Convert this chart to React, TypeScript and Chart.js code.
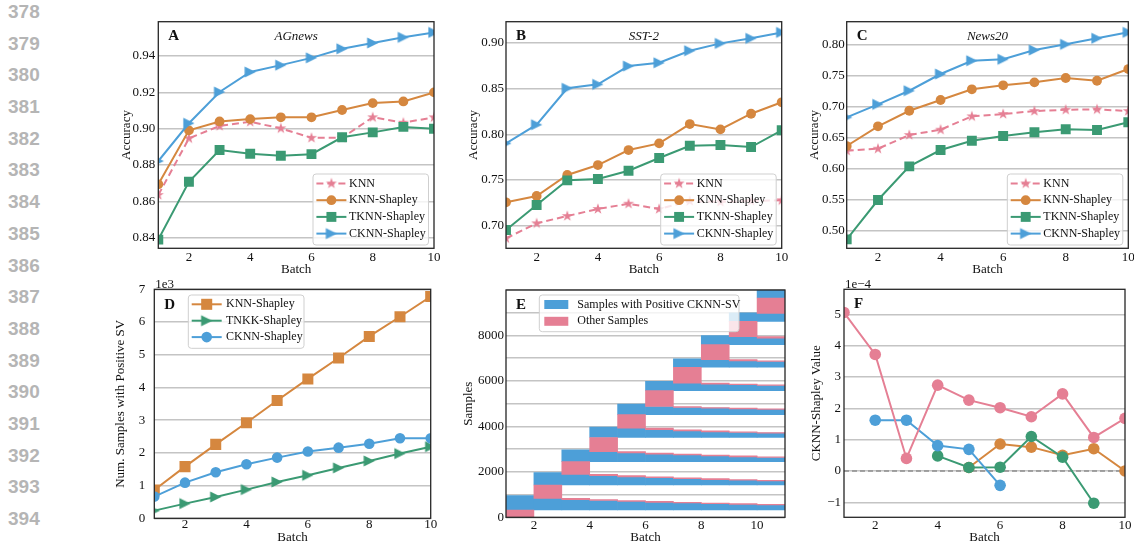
import React, { useEffect, useRef } from 'react';
import { Chart, registerables } from 'chart.js';

Chart.register(...registerables);

const SERIF = '"Liberation Serif", "Times New Roman", Times, serif';
const SANS = '"Liberation Sans", Arial, Helvetica, sans-serif';
const TXT = '#111111';
const GRID = '#c4c4c4';
const FRAME = '#262626';
const C_BLUE = '#4d9fd8';
const C_ORANGE = '#d5873f';
const C_GREEN = '#3b9a73';
const C_PINK = '#e57f94';

// ---------------- data ----------------
const marginNumbers = [378, 379, 380, 381, 382, 383, 384, 385, 386, 387, 388, 389, 390, 391, 392, 393, 394];
const batches = [1, 2, 3, 4, 5, 6, 7, 8, 9, 10];
const batchTicks = [2, 4, 6, 8, 10];
const accNames = ['KNN', 'KNN-Shapley', 'TKNN-Shapley', 'CKNN-Shapley'];
const posNames = ['KNN-Shapley', 'TNKK-Shapley', 'CKNN-Shapley'];
const sampleNames = ['Samples with Positive CKNN-SV', 'Other Samples'];

// A: AGnews
const agKnn = [0.8635, 0.8947, 0.9015, 0.9038, 0.9002, 0.895, 0.895, 0.9063, 0.9033, 0.9063];
const agKnnShap = [0.8694, 0.8991, 0.904, 0.9053, 0.9063, 0.9063, 0.9103, 0.9141, 0.915, 0.92];
const agTknn = [0.839, 0.8708, 0.8883, 0.8862, 0.8851, 0.886, 0.8953, 0.898, 0.901, 0.9];
const agCknn = [0.8822, 0.903, 0.9202, 0.9312, 0.935, 0.939, 0.944, 0.9472, 0.9503, 0.953];
// B: SST-2
const sstKnn = [0.6862, 0.7026, 0.7106, 0.7183, 0.724, 0.7182, 0.727, 0.726, 0.727, 0.7278];
const sstKnnShap = [0.7256, 0.7325, 0.7554, 0.7663, 0.7827, 0.79, 0.8111, 0.8053, 0.8224, 0.8349];
const sstTknn = [0.6953, 0.7226, 0.7496, 0.751, 0.7601, 0.774, 0.7874, 0.7882, 0.786, 0.8043];
const sstCknn = [0.79, 0.8104, 0.8502, 0.8545, 0.8745, 0.8781, 0.8913, 0.8993, 0.9048, 0.9113];
// C: News20
const nwKnn = [0.6288, 0.632, 0.654, 0.6626, 0.6841, 0.6878, 0.6926, 0.6947, 0.6953, 0.6926];
const nwKnnShap = [0.6363, 0.668, 0.6931, 0.7104, 0.7276, 0.734, 0.7388, 0.7458, 0.7414, 0.7602];
const nwTknn = [0.4861, 0.5494, 0.6036, 0.6299, 0.6448, 0.6524, 0.6584, 0.6632, 0.6621, 0.6745];
const nwCknn = [0.6825, 0.7034, 0.7253, 0.7522, 0.7736, 0.7759, 0.7908, 0.8, 0.8097, 0.8193];
// D: number of samples with positive SV
const posKnnShap = [866, 1580, 2260, 2920, 3600, 4260, 4900, 5560, 6160, 6780];
const posTnkk = [234, 449, 652, 877, 1110, 1315, 1540, 1753, 1978, 2190];
const posCknn = [663, 1090, 1407, 1651, 1855, 2040, 2160, 2280, 2446, 2446];
// E: per arriving chunk, bottom of its positive strip and its top at each later batch
const eStripBase = [320, 1420, 2450, 3510, 4520, 5570, 6600, 7600, 8620, 9650];
const eStripTop = [
  [960, 835, 780, 740, 700, 660, 630, 600, 570, 545],
  [1970, 1890, 1830, 1780, 1740, 1700, 1660, 1630, 1600],
  [2970, 2890, 2830, 2780, 2740, 2700, 2660, 2630],
  [3965, 3920, 3850, 3800, 3760, 3730, 3700],
  [4980, 4875, 4830, 4800, 4770, 4750],
  [5980, 5900, 5860, 5830, 5800],
  [6975, 6940, 6880, 6855],
  [7990, 7950, 7880],
  [9000, 8970],
  [10000],
];
// F: CKNN-Shapley value (x1e-4)
const fOrange = [null, null, null, null, 0.11, 0.86, 0.76, 0.5, 0.71, 0.0];
const fGreen = [null, null, null, 0.48, 0.11, 0.12, 1.1, 0.44, -1.03, null];
const fBlue = [null, 1.62, 1.62, 0.81, 0.69, -0.46, null, null, null, null];
const fPink = [5.06, 3.72, 0.4, 2.74, 2.26, 2.02, 1.73, 2.46, 1.07, 1.68];

// tick values
const ticksA = [0.84, 0.86, 0.88, 0.9, 0.92, 0.94];
const ticksB = [0.7, 0.75, 0.8, 0.85, 0.9];
const ticksC = [0.5, 0.55, 0.6, 0.65, 0.7, 0.75, 0.8];
const ticksD = [0, 1000, 2000, 3000, 4000, 5000, 6000, 7000];
const ticksE = [0, 1000, 2000, 3000, 4000, 5000, 6000, 7000, 8000, 9000, 10000];
const ticksF = [-1, 0, 1, 2, 3, 4, 5];

// ---------------- geometry ----------------
const GA = { cl: 100, ct: 0, cw: 345, ch: 280, yW: 58.3, xH: 31.7, padTop: 21.7, padRight: 11, yTitlePad: 18.9, xTitlePad: 2.7, yTickPad: 3, xTickPad: 1 };
const GB = { cl: 450, ct: 0, cw: 343, ch: 280, yW: 56, xH: 31.7, padTop: 21.7, padRight: 11.3, yTitlePad: 15.5, xTitlePad: 2.7, yTickPad: 2, xTickPad: 1 };
const GC = { cl: 790, ct: 0, cw: 344, ch: 280, yW: 56.7, xH: 31.7, padTop: 21.7, padRight: 5.7, yTitlePad: 17.2, xTitlePad: 2.7, yTickPad: 2, xTickPad: 1 };
const GD = { cl: 100, ct: 272, cw: 342, ch: 278, yW: 54.3, xH: 31.7, padTop: 17.3, padRight: 11.3, yTitlePad: 12.9, xTitlePad: 4.7, yTickPad: 9, xTickPad: -1.5 };
const GE = { cl: 450, ct: 272, cw: 346, ch: 278, yW: 56, xH: 32.7, padTop: 18, padRight: 11, yTitlePad: 10.5, xTitlePad: 4.7, yTickPad: 2, xTickPad: 0 };
const GF = { cl: 790, ct: 272, cw: 344, ch: 278, yW: 54, xH: 32.7, padTop: 17.3, padRight: 9, yTitlePad: 18.9, xTitlePad: 4.7, yTickPad: 3, xTickPad: 0 };

const accLegend = { anchor: 'br', dx: 5.5, dy: 3.3, w: 115.5, h: 71, rowH: 16.7, row0: 9.5, kind: 'line', symX: 3.4, symW: 30, textX: 36 };

// ---------------- helpers ----------------
function markerImage(kind: string, r: number, color: string): HTMLCanvasElement {
  const size = Math.ceil(r) * 2 + 2;
  const c = document.createElement('canvas');
  c.width = size;
  c.height = size;
  const ctx = c.getContext('2d') as CanvasRenderingContext2D;
  const m = size / 2;
  ctx.fillStyle = color;
  ctx.beginPath();
  if (kind === 'star') {
    for (let i = 0; i < 10; i++) {
      const rr = i % 2 === 0 ? r : r * 0.382;
      const a = -Math.PI / 2 + (i * Math.PI) / 5;
      const px = m + rr * Math.cos(a);
      const py = m + rr * Math.sin(a);
      if (i === 0) ctx.moveTo(px, py);
      else ctx.lineTo(px, py);
    }
  } else {
    ctx.moveTo(m + r, m);
    ctx.lineTo(m - r, m - r);
    ctx.lineTo(m - r, m + r);
  }
  ctx.closePath();
  ctx.fill();
  return c;
}

function lineDs(label: string, values: any[], color: string, style: any, radius: number, dash: number[], order: number) {
  return {
    label,
    order,
    data: batches.map((b, i) => ({ x: b, y: values[i] })).filter((p) => p.y !== null),
    borderColor: color,
    backgroundColor: color,
    borderWidth: 2,
    borderDash: dash,
    pointStyle: style,
    pointRadius: radius,
    pointHoverRadius: radius,
    pointBackgroundColor: color,
    pointBorderColor: color,
    pointBorderWidth: 0,
    tension: 0,
    clip: 0,
  };
}

function drawMarker(ctx: CanvasRenderingContext2D, style: any, x: number, y: number, r: number, color: string) {
  ctx.save();
  ctx.setLineDash([]);
  ctx.fillStyle = color;
  if (style && typeof style === 'object') {
    ctx.drawImage(style, x - style.width / 2, y - style.height / 2);
  } else if (style === 'rect') {
    const s = r * Math.SQRT1_2;
    ctx.fillRect(x - s, y - s, 2 * s, 2 * s);
  } else {
    ctx.beginPath();
    ctx.arc(x, y, r, 0, Math.PI * 2);
    ctx.fill();
  }
  ctx.restore();
}

function roundRectPath(ctx: CanvasRenderingContext2D, x: number, y: number, w: number, h: number, r: number) {
  ctx.beginPath();
  ctx.moveTo(x + r, y);
  ctx.lineTo(x + w - r, y);
  ctx.arcTo(x + w, y, x + w, y + r, r);
  ctx.lineTo(x + w, y + h - r);
  ctx.arcTo(x + w, y + h, x + w - r, y + h, r);
  ctx.lineTo(x + r, y + h);
  ctx.arcTo(x, y + h, x, y + h - r, r);
  ctx.lineTo(x, y + r);
  ctx.arcTo(x, y, x + r, y, r);
  ctx.closePath();
}

function decoPlugin(d: any) {
  return {
    id: 'deco',
    beforeDatasetsDraw(chart: any) {
      if (!d.zeroLine) return;
      const { ctx, chartArea: ca, scales } = chart;
      const y = scales.y.getPixelForValue(0);
      ctx.save();
      ctx.strokeStyle = '#8f8f8f';
      ctx.lineWidth = 1.4;
      ctx.setLineDash([5, 3]);
      ctx.beginPath();
      ctx.moveTo(ca.left, y);
      ctx.lineTo(ca.right, y);
      ctx.stroke();
      ctx.restore();
    },
    afterDraw(chart: any) {
      const { ctx, chartArea: ca } = chart;
      ctx.save();
      // frame
      ctx.strokeStyle = FRAME;
      ctx.lineWidth = 1.3;
      ctx.strokeRect(ca.left, ca.top, ca.right - ca.left, ca.bottom - ca.top);
      ctx.fillStyle = TXT;
      // letter
      ctx.font = `bold 15px ${SERIF}`;
      ctx.textAlign = 'left';
      ctx.textBaseline = 'alphabetic';
      ctx.fillText(d.letter, ca.left + 10, ca.top + d.letterDy);
      if (d.title) {
        ctx.font = `italic 13px ${SERIF}`;
        ctx.textAlign = 'center';
        ctx.fillText(d.title, (ca.left + ca.right) / 2, ca.top + 18.3);
      }
      if (d.expo) {
        ctx.font = `13px ${SERIF}`;
        ctx.textAlign = 'left';
        ctx.fillText(d.expo, ca.left + 1, ca.top - 1.5);
      }
      const L = d.legend;
      if (L) {
        const bx = L.anchor === 'br' ? ca.right - L.dx - L.w : ca.left + L.dx;
        const by = L.anchor === 'br' ? ca.bottom - L.dy - L.h : ca.top + L.dy;
        roundRectPath(ctx, bx, by, L.w, L.h, 3);
        ctx.fillStyle = 'rgba(255,255,255,0.8)';
        ctx.fill();
        ctx.strokeStyle = '#cfcfcf';
        ctx.lineWidth = 1;
        ctx.stroke();
        const dsList = chart.data.datasets;
        dsList.forEach((ds: any, i: number) => {
          const cy = by + L.row0 + i * L.rowH;
          if (L.kind === 'line') {
            ctx.save();
            ctx.strokeStyle = ds.borderColor;
            ctx.lineWidth = 2;
            ctx.setLineDash(ds.borderDash || []);
            ctx.beginPath();
            ctx.moveTo(bx + L.symX, cy);
            ctx.lineTo(bx + L.symX + L.symW, cy);
            ctx.stroke();
            ctx.restore();
            drawMarker(ctx, ds.pointStyle, bx + L.symX + L.symW / 2, cy, ds.pointRadius, ds.borderColor);
          } else {
            ctx.fillStyle = ds.backgroundColor;
            ctx.fillRect(bx + L.symX, cy - L.patchH / 2, L.symW, L.patchH);
          }
          ctx.fillStyle = TXT;
          ctx.font = `12px ${SERIF}`;
          ctx.textAlign = 'left';
          ctx.textBaseline = 'middle';
          ctx.fillText(ds.label, bx + L.textX, cy);
        });
      }
      ctx.restore();
    },
  };
}

function makeScales(g: any, y: any) {
  const font = { family: SERIF, size: 13 };
  return {
    x: {
      type: 'linear',
      min: y.xMin,
      max: y.xMax,
      offset: false,
      afterBuildTicks: (s: any) => {
        s.ticks = batchTicks.map((v) => ({ value: v }));
      },
      afterFit: (s: any) => {
        s.height = g.xH;
        s.paddingLeft = 0;
        s.paddingRight = 0;
      },
      grid: { display: false, drawTicks: false },
      border: { display: false },
      ticks: { font, color: TXT, padding: g.xTickPad, maxRotation: 0, autoSkip: false },
      title: { display: true, text: 'Batch', font, color: TXT, padding: { top: 0, bottom: g.xTitlePad } },
    },
    y: {
      type: 'linear',
      min: y.min,
      max: y.max,
      afterBuildTicks: (s: any) => {
        s.ticks = y.ticks.map((v: number) => ({ value: v }));
      },
      afterFit: (s: any) => {
        s.width = g.yW;
        s.paddingTop = 0;
        s.paddingBottom = 0;
      },
      grid: { display: true, drawTicks: false, color: GRID, lineWidth: 1.4 },
      border: { display: false },
      ticks: { font, color: TXT, padding: g.yTickPad, autoSkip: false, callback: y.fmt },
      title: { display: true, text: y.title, font, color: TXT, padding: { top: g.yTitlePad, bottom: 0 } },
    },
  };
}

function baseOptions(g: any, scales: any) {
  return {
    responsive: false,
    animation: false,
    events: [],
    layout: { autoPadding: false, padding: { left: 0, top: g.padTop, right: g.padRight, bottom: 0 } },
    plugins: { legend: { display: false }, tooltip: { enabled: false }, title: { display: false } },
    scales,
  };
}

function accuracyConfig(g: any, letter: string, title: string, knn: number[], knnS: number[], tknn: number[], cknn: number[], yr: any) {
  const star = markerImage('star', 5.8, C_PINK);
  const tri = markerImage('tri', 5.6, C_BLUE);
  return {
    type: 'line',
    data: {
      datasets: [
        lineDs(accNames[0], knn, C_PINK, star, 5.8, [7, 4], 0),
        lineDs(accNames[1], knnS, C_ORANGE, 'circle', 4.9, [], -1),
        lineDs(accNames[2], tknn, C_GREEN, 'rect', 7, [], -2),
        lineDs(accNames[3], cknn, C_BLUE, tri, 5.6, [], -3),
      ],
    },
    options: baseOptions(g, makeScales(g, { xMin: 1, xMax: 10, min: yr.min, max: yr.max, ticks: yr.ticks, title: 'Accuracy', fmt: (v: number) => v.toFixed(2) })),
    plugins: [decoPlugin({ letter, title, letterDy: 18.3, legend: accLegend })],
  };
}

const makeA = () => accuracyConfig(GA, 'A', 'AGnews', agKnn, agKnnShap, agTknn, agCknn, { min: 0.8342, max: 0.9589, ticks: ticksA });
const makeB = () => accuracyConfig(GB, 'B', 'SST-2', sstKnn, sstKnnShap, sstTknn, sstCknn, { min: 0.6753, max: 0.923, ticks: ticksB });
const makeC = () => accuracyConfig(GC, 'C', 'News20', nwKnn, nwKnnShap, nwTknn, nwCknn, { min: 0.4717, max: 0.8364, ticks: ticksC });

const makeD = () => {
  const tri = markerImage('tri', 5.6, C_GREEN);
  return {
    type: 'line',
    data: {
      datasets: [
        lineDs(posNames[0], posKnnShap, C_ORANGE, 'rect', 7.8, [], 0),
        lineDs(posNames[1], posTnkk, C_GREEN, tri, 5.6, [], -1),
        lineDs(posNames[2], posCknn, C_BLUE, 'circle', 5.3, [], -2),
      ],
    },
    options: baseOptions(GD, makeScales(GD, { xMin: 1, xMax: 10, min: 0, max: 7000, ticks: ticksD, title: 'Num. Samples with Positive SV', fmt: (v: number) => String(v / 1000) })),
    plugins: [decoPlugin({ letter: 'D', letterDy: 19.7, expo: '1e3', legend: { anchor: 'tl', dx: 34, dy: 5.7, w: 115.7, h: 53.3, rowH: 16.4, row0: 9.3, kind: 'line', symX: 3.4, symW: 30, textX: 37.7 } })],
  };
};

const makeE = () => {
  const blue: any[] = [];
  const pink: any[] = [];
  eStripTop.forEach((tops, c) => {
    const first = batches[c];
    const newBottom = c === 0 ? 0 : eStripTop[c - 1][1];
    pink.push({ x: first + 0.5, y: [newBottom, eStripBase[c]] });
    tops.forEach((t, k) => {
      const b = first + k;
      blue.push({ x: b + 0.5, y: [eStripBase[c], t] });
      if (k >= 2) pink.push({ x: b + 0.5, y: [t, tops[k - 1]] });
    });
  });
  const barCommon = { grouped: false, barPercentage: 1, categoryPercentage: 1, borderWidth: 0 };
  return {
    type: 'bar',
    data: {
      datasets: [
        { label: sampleNames[0], data: blue, backgroundColor: C_BLUE, order: 1, ...barCommon },
        { label: sampleNames[1], data: pink, backgroundColor: C_PINK, order: 0, ...barCommon },
      ],
    },
    options: {
      ...baseOptions(GE, makeScales(GE, { xMin: 1, xMax: 11, min: 0, max: 10000, ticks: ticksE, title: 'Samples', fmt: (v: number) => (v % 2000 === 0 && v < 10000 ? String(v) : '') })),
      indexAxis: 'x',
    },
    plugins: [decoPlugin({ letter: 'E', letterDy: 19, legend: { anchor: 'tl', dx: 33.3, dy: 5, w: 199.7, h: 36.7, rowH: 16.8, row0: 9.5, kind: 'patch', symX: 5, symW: 24, patchH: 9, textX: 38 } })],
  };
};

const makeF = () => ({
  type: 'line',
  data: {
    datasets: [
      lineDs('orange', fOrange, C_ORANGE, 'circle', 5.8, [], 0),
      lineDs('green', fGreen, C_GREEN, 'circle', 5.8, [], -1),
      lineDs('blue', fBlue, C_BLUE, 'circle', 5.8, [], -2),
      lineDs('pink', fPink, C_PINK, 'circle', 5.8, [], -3),
    ],
  },
  options: baseOptions(GF, makeScales(GF, { xMin: 1, xMax: 10, min: -1.48, max: 5.8, ticks: ticksF, title: 'CKNN-Shapley Value', fmt: (v: number) => (v < 0 ? '\u2212' + Math.abs(v) : String(v)) })),
  plugins: [decoPlugin({ letter: 'F', letterDy: 19, expo: '1e\u22124', zeroLine: true })],
});

function Panel({ g, make }: any) {
  const ref = useRef<HTMLCanvasElement>(null);
  useEffect(() => {
    const chart = new Chart(ref.current as HTMLCanvasElement, make());
    return () => chart.destroy();
  }, []);
  return (
    <canvas
      ref={ref}
      width={g.cw}
      height={g.ch}
      style={{ position: 'absolute', left: g.cl, top: g.ct, width: g.cw, height: g.ch }}
    />
  );
}

export default function App() {
  return (
    <div style={{ position: 'fixed', left: 0, top: 0, width: 1134, height: 543, overflow: 'hidden', background: '#ffffff' }}>
      {marginNumbers.map((n, i) => (
        <div
          key={n}
          style={{
            position: 'absolute',
            left: 8,
            top: 12 + i * 31.69 - 11,
            height: 22,
            lineHeight: '22px',
            font: `bold 19px ${SANS}`,
            color: '#b5b5b5',
          }}
        >
          {n}
        </div>
      ))}
      <Panel g={GA} make={makeA} />
      <Panel g={GB} make={makeB} />
      <Panel g={GC} make={makeC} />
      <Panel g={GD} make={makeD} />
      <Panel g={GE} make={makeE} />
      <Panel g={GF} make={makeF} />
    </div>
  );
}
